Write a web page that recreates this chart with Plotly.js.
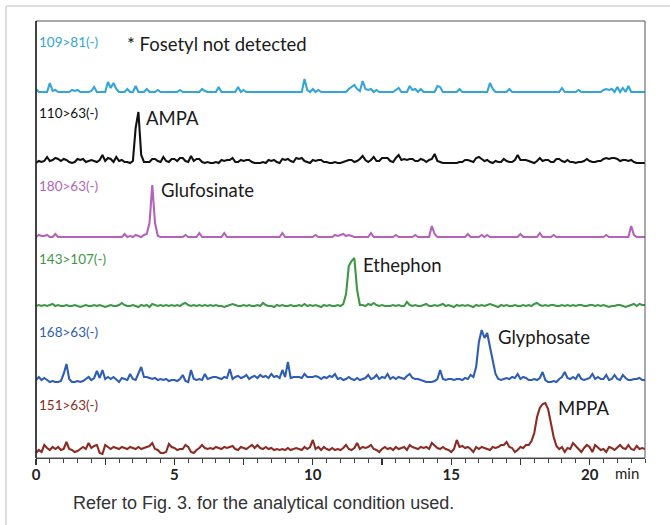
<!DOCTYPE html>
<html>
<head>
<meta charset="utf-8">
<script src="https://cdn.plot.ly/plotly-3.0.1.min.js"></script>
<style>
html,body{margin:0;padding:0;background:#fff;}
#chart{width:670px;height:525px;}
</style>
</head>
<body>
<div id="chart"></div>
<script>
// Sampling times (min), 0.0 .. 22.0 every 0.1 min
const time = [];
for (let i = 0; i <= 220; i++) time.push(Math.round(i) / 10);

// Channel names and compound labels
const channels = ["109>81(-)", "110>63(-)", "180>63(-)", "143>107(-)", "168>63(-)", "151>63(-)"];
const compounds = ["* Fosetyl not detected", "AMPA", "Glufosinate", "Ethephon", "Glyphosate", "MPPA"];
const compoundTimes = [3.2, 3.9, 4.45, 11.75, 16.6, 18.8];

// Intensities (relative), one value per 0.1 min
const ch109 = [3,0,0,0,0,9,1,2,0,0,
 0,0,0,2,1,2,0,0,0,0,
 1,5,0,0,0,0,10,4,9,3,
 0,0,0,3,0,0,6,0,0,0,
 3,0,0,0,2,0,0,0,0,0,
 0,0,2,0,0,0,0,0,0,0,
 3,1,0,0,0,0,5,0,0,0,
 0,0,0,5,0,2,0,0,0,0,
 0,0,0,0,0,0,0,0,0,0,
 0,0,0,0,0,0,0,13,2,0,
 3,0,2,0,0,0,0,0,0,0,
 0,0,0,3,5,7,3,1,11,3,
 2,3,0,2,0,0,0,0,0,0,
 2,4,0,0,0,6,2,3,0,3,
 0,0,0,0,0,6,5,0,0,0,
 0,0,0,3,0,0,0,0,0,0,
 0,0,0,0,9,3,0,0,0,0,
 0,3,0,0,0,0,0,0,0,0,
 0,0,0,0,0,0,0,0,0,0,
 4,0,0,0,0,0,2,0,0,0,
 0,0,0,0,0,2,3,2,3,0,
 5,0,4,0,6,0,0,0,0,0,
 0];

const ch110 = [0,2,1,2,6,2,3,5,4,2,
 4,3,1,0,1,4,3,4,1,2,
 3,2,1,3,8,2,5,4,1,6,
 2,3,1,1,0,2,35,51,8,1,
 1,1,4,4,2,1,6,2,1,4,
 4,2,5,5,2,1,7,2,4,4,
 1,0,1,0,0,1,0,3,2,3,
 3,5,1,1,3,2,3,3,1,0,
 0,0,1,0,3,2,3,1,0,4,
 3,4,2,1,5,4,5,2,1,0,
 3,2,3,3,1,1,0,0,1,0,
 0,1,2,3,3,1,2,4,7,3,
 1,3,6,2,2,5,5,5,2,1,
 5,8,3,4,3,4,4,2,2,4,
 3,1,3,4,9,2,1,0,0,0,
 0,0,0,1,1,3,3,2,1,5,
 6,4,2,3,1,0,2,1,1,4,
 2,1,1,3,8,3,3,3,2,1,
 0,2,5,2,3,3,1,1,4,4,
 2,1,3,1,1,0,1,1,2,4,
 2,1,1,2,2,4,5,4,5,5,
 4,2,3,3,2,3,1,0,0,0,
 0];

const ch180 = [0,2,1,1,2,0,0,3,0,0,
 0,0,0,0,0,0,0,0,0,0,
 0,0,0,0,0,0,0,0,0,0,
 0,0,3,0,1,0,2,1,0,2,
 3,14,52,14,1,0,0,0,0,0,
 0,0,0,0,2,0,0,0,0,4,
 0,0,0,0,0,0,0,0,4,0,
 0,0,0,0,0,0,0,0,0,0,
 0,0,0,0,0,0,0,0,0,4,
 0,0,0,0,0,0,0,0,0,0,
 0,2,0,0,0,0,0,0,2,1,
 2,3,1,2,1,0,0,0,0,0,
 0,4,0,0,0,0,0,0,0,0,
 2,0,0,0,0,0,0,2,0,0,
 0,0,0,11,3,0,0,0,0,0,
 0,0,0,0,0,0,3,0,0,0,
 0,2,0,2,0,0,0,0,0,0,
 0,0,0,0,0,3,0,0,0,0,
 0,0,4,0,0,0,0,2,0,0,
 0,0,0,0,0,0,0,0,0,0,
 0,0,0,0,0,0,2,0,0,0,
 0,0,0,0,0,11,2,0,0,0,
 0];

const ch143 = [2,3,2,3,2,3,4,2,3,2,
 2,3,2,2,3,2,1,2,3,2,
 2,3,2,3,2,1,2,3,2,2,
 3,5,3,2,2,3,2,1,3,2,
 3,1,4,3,2,3,2,3,2,3,
 2,3,2,4,5,3,2,3,2,3,
 2,3,2,3,2,3,2,2,1,2,
 3,4,3,2,2,3,2,3,2,2,
 3,2,5,3,2,2,1,3,2,3,
 2,2,3,2,2,3,2,4,2,3,
 2,3,2,1,3,2,3,2,2,3,
 2,4,14,42,47,50,18,3,3,2,
 4,3,5,3,2,3,2,2,2,3,
 2,3,2,2,6,3,2,3,2,2,
 3,4,2,2,3,2,3,4,2,3,
 2,1,3,2,3,2,3,2,1,3,
 2,3,2,3,4,3,2,1,3,2,
 3,2,2,3,2,2,3,2,3,2,
 4,5,3,2,3,2,3,3,2,2,
 3,2,3,2,3,2,3,3,2,2,
 3,3,2,3,2,3,2,1,2,2,
 3,3,2,1,2,3,4,2,4,3,
 3];

const ch168 = [2,5,2,4,2,0,1,0,0,1,
 8,18,3,0,0,1,0,1,3,5,
 2,4,11,4,12,3,5,3,5,2,
 0,4,3,2,8,3,2,8,15,5,
 5,4,3,4,2,3,2,3,1,2,
 2,1,3,7,1,0,12,3,2,3,
 2,8,3,4,5,5,4,3,5,4,
 13,3,5,6,4,5,7,3,5,6,
 4,7,5,6,4,8,5,6,4,12,
 5,20,4,5,5,5,4,8,5,5,
 5,6,5,3,5,4,6,5,8,3,
 4,2,3,5,3,2,4,2,3,4,
 7,3,4,7,3,5,4,8,3,5,
 3,5,4,3,6,8,4,3,3,2,
 1,0,0,0,1,3,12,3,2,3,
 3,2,3,3,2,4,3,7,5,15,
 40,52,44,49,35,20,8,3,2,3,
 4,3,5,4,8,3,5,4,2,2,
 3,2,4,10,2,0,0,1,0,3,
 5,10,4,3,5,3,8,3,2,3,
 4,8,3,5,3,3,7,2,3,7,
 3,2,7,4,2,2,3,3,4,2,
 2];

const ch151 = [2,5,3,10,7,5,8,6,8,5,
 6,13,6,5,3,4,6,8,6,12,
 7,9,10,2,1,10,8,6,8,7,
 6,8,7,6,8,7,6,8,6,7,
 8,9,12,6,5,2,2,3,11,8,
 7,5,6,6,10,8,3,2,5,7,
 10,7,6,7,6,8,7,6,8,7,
 8,9,6,5,8,7,6,8,10,7,
 10,7,6,8,6,7,5,6,5,6,
 5,7,5,6,7,6,5,8,6,8,
 15,6,8,5,8,6,5,7,5,6,
 5,7,10,6,5,7,12,6,8,7,
 8,10,6,5,3,6,8,6,7,5,
 8,6,7,8,5,10,8,7,6,8,
 7,8,6,12,9,7,6,8,6,5,
 3,6,15,8,9,7,8,6,3,8,
 6,8,7,6,5,8,7,8,10,10,
 13,8,7,3,5,8,7,10,10,14,
 22,38,47,51,52,46,32,18,9,6,
 8,3,7,6,12,9,5,3,7,10,
 8,3,10,7,5,6,3,8,7,5,
 8,10,7,6,10,6,5,9,6,7,
 6];

const series = [ch109, ch110, ch180, ch143, ch168, ch151];
const colors = ["#33a5d8", "#111111", "#b463b8", "#3f9646", "#2f5db4", "#8c2b24"];

// x-axis ticks
const tickValues = [0, 2.5, 5, 7.5, 10, 12.5, 15, 17.5, 20];
const tickLabels = ["0", "", "5", "", "10", "", "15", "", "20"];

// ---------- layout geometry (pixels) ----------
const W = 670, Hh = 525;
const mL = 36, mR = 25, mT = 21, mB = 67;
const plotH = Hh - mT - mB;   // 437
const plotW = W - mL - mR;    // 609
const bottomPx = Hh - mB;     // 458
const baselinesPx = [92, 163, 237, 308, 382, 455];
const labelLevel = [50, 50, 51, 49, 50, 50];
const compLevel = [48, 45, 47, 43, 45, 47];
const yLo = -3, yHi = 59;

function pxToPaperY(py) { return (bottomPx - py) / plotH; }
function pxToPaperX(px) { return (px - mL) / plotW; }

const traces = [];
const layout = {
  width: W, height: Hh,
  margin: {l: mL, r: mR, t: mT, b: mB, pad: 0},
  paper_bgcolor: "#ffffff",
  plot_bgcolor: "#ffffff",
  showlegend: false,
  hovermode: false,
  xaxis: {
    range: [0, 22],
    anchor: "free", position: 0,
    showgrid: false, zeroline: false,
    showline: true, linecolor: "#333333", linewidth: 1.4,
    ticks: "outside", ticklen: 6, tickwidth: 1.2, tickcolor: "#333333",
    tickmode: "array", tickvals: tickValues, ticktext: tickLabels,
    ticklabelstandoff: -3,
    tickfont: {family: "Lato, sans-serif", size: 15, color: "#222222", weight: "bold"},
    minor: {ticks: "outside", ticklen: 3.5, tickwidth: 1, tickcolor: "#444444", tickmode: "linear", tick0: 0, dtick: 0.5, showgrid: false}
  },
  annotations: [],
  shapes: []
};

series.forEach((vals, i) => {
  const ax = i === 0 ? "y" : "y" + (i + 1);
  const key = i === 0 ? "yaxis" : "yaxis" + (i + 1);
  const lo = pxToPaperY(baselinesPx[i] - yLo);
  const hi = lo + (yHi - yLo) / plotH;
  layout[key] = {
    domain: [Math.max(0, lo), Math.min(1, hi)],
    range: [yLo, yHi],
    visible: false, fixedrange: true
  };
  traces.push({
    x: time, y: vals, type: "scatter", mode: "lines",
    xaxis: "x", yaxis: ax,
    line: {color: colors[i], width: 2.1, shape: "linear"},
    cliponaxis: false
  });
  layout.annotations.push({
    xref: "paper", yref: ax, x: 0.002, y: labelLevel[i],
    xanchor: "left", yanchor: "middle", showarrow: false,
    text: channels[i],
    font: {family: "Lato, sans-serif", size: 13.5, color: colors[i]}
  });
  layout.annotations.push({
    xref: "x", yref: ax, x: compoundTimes[i], y: compLevel[i],
    xanchor: "left", yanchor: "middle", showarrow: false,
    text: compounds[i],
    font: {family: "Lato, sans-serif", size: 18.5, color: "#1a1a1a"}
  });
});

// "min" unit label
layout.annotations.push({
  xref: "paper", yref: "paper", x: pxToPaperX(627), y: pxToPaperY(473),
  xanchor: "center", yanchor: "middle", showarrow: false,
  text: "min", font: {family: "Lato, sans-serif", size: 15, color: "#222222"}
});
// caption
layout.annotations.push({
  xref: "paper", yref: "paper", x: pxToPaperX(71), y: pxToPaperY(503),
  xanchor: "left", yanchor: "middle", showarrow: false,
  text: "Refer to Fig. 3. for the analytical condition used.",
  font: {family: "Liberation Sans, Arial, sans-serif", size: 18, color: "#333333"}
});

// plot frame
layout.shapes.push({type: "rect", xref: "paper", yref: "paper", x0: 0, x1: 1, y0: 0, y1: 1,
  line: {color: "#555555", width: 1}, layer: "above"});
layout.shapes.push({type: "line", xref: "paper", yref: "paper", x0: 0, x1: 0, y0: 0, y1: 1,
  line: {color: "#222222", width: 1.5}, layer: "above"});
// outer card border (left and top)
layout.shapes.push({type: "line", xref: "paper", yref: "paper",
  x0: pxToPaperX(6), x1: pxToPaperX(6), y0: pxToPaperY(6), y1: pxToPaperY(525),
  line: {color: "#dddddd", width: 2}});
layout.shapes.push({type: "line", xref: "paper", yref: "paper",
  x0: pxToPaperX(6), x1: pxToPaperX(670), y0: pxToPaperY(6), y1: pxToPaperY(6),
  line: {color: "#dddddd", width: 2}});

Plotly.newPlot("chart", traces, layout, {staticPlot: true, displayModeBar: false});
</script>
</body>
</html>
